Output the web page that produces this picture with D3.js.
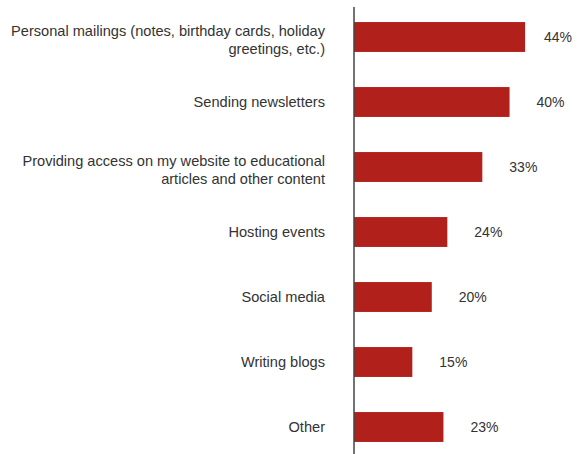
<!DOCTYPE html>
<html>
<head>
<meta charset="utf-8">
<script src="https://cdn.jsdelivr.net/npm/d3@7"></script>
<style>
  html, body { margin: 0; padding: 0; background: #fff; }
  svg { display: block; }
  text { font-family: Arial, "Liberation Sans", sans-serif; fill: #333; }
</style>
</head>
<body>
<svg id="chart" width="581" height="454"></svg>
<script>
// Category labels, each split into its display lines
const categories = [
  ["Personal mailings (notes, birthday cards, holiday", "greetings, etc.)"],
  ["Sending newsletters"],
  ["Providing access on my website to educational", "articles and other content"],
  ["Hosting events"],
  ["Social media"],
  ["Writing blogs"],
  ["Other"]
];
// Share of respondents, percent
const values = [44, 40, 33, 24, 20, 15, 23];
const valueLabels = ["44%", "40%", "33%", "24%", "20%", "15%", "23%"];

const width = 581, height = 454;
const axisX = 354;
const svg = d3.select("#chart");

const y = d3.scaleBand()
  .domain(d3.range(values.length))
  .range([4.5, 459.5])
  .paddingInner(0.54)
  .paddingOuter(0.27);

const x = d3.scaleLinear()
  .domain([0, 45])
  .range([axisX, axisX + 175]);

// Bars
svg.append("g").selectAll("rect")
  .data(values)
  .join("rect")
  .attr("x", x(0))
  .attr("y", (d, i) => y(i))
  .attr("width", d => x(d) - x(0))
  .attr("height", y.bandwidth())
  .attr("fill", "#B2201B");

// Value labels to the right of each bar
svg.append("g").selectAll("text")
  .data(values)
  .join("text")
  .attr("x", d => Math.min(x(d) + 27, width - 37))
  .attr("y", (d, i) => y(i) + y.bandwidth() / 2)
  .attr("dy", "0.35em")
  .attr("font-size", 14)
  .text((d, i) => valueLabels[i]);

// Category labels, right-aligned against the axis
const lineH = 18.5;
const cat = svg.append("g").selectAll("text")
  .data(categories)
  .join("text")
  .attr("text-anchor", "end")
  .attr("font-size", 14.6)
  .attr("y", (d, i) => y(i) + y.bandwidth() / 2 + (d.length > 1 ? 3 - (d.length - 1) * lineH / 2 : 0));
cat.selectAll("tspan")
  .data(d => d)
  .join("tspan")
  .attr("x", axisX - 29)
  .attr("dy", (d, j) => j === 0 ? "0.35em" : lineH)
  .text(d => d);

// Vertical category axis line
const yAxis = d3.axisLeft(y).tickSize(0).tickFormat("");
const axisG = svg.append("g")
  .attr("transform", `translate(${axisX},0)`)
  .call(yAxis);
axisG.select(".domain")
  .attr("d", `M0,7V${height}`)
  .attr("stroke", "#444")
  .attr("stroke-width", 1.5);
</script>
</body>
</html>
